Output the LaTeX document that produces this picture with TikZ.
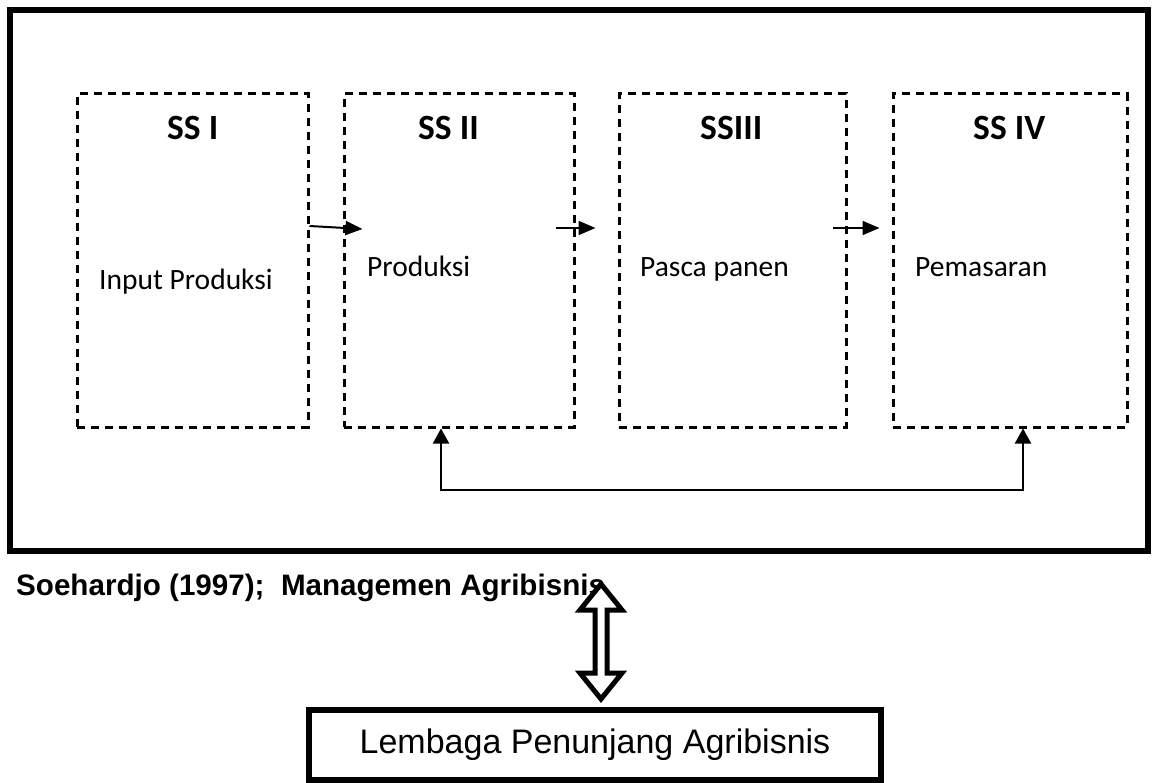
\documentclass[tikz,border=0pt]{standalone}
\usepackage{fontspec}
\setmainfont{Carlito}
\newfontfamily\arialfont{Liberation Sans}
\usetikzlibrary{arrows.meta}

\tikzset{
  ssbox/.style={draw, dash pattern=on 8pt off 6pt, line width=3pt, inner sep=0pt, minimum height=333pt},
  ttl/.style={anchor=base west, inner sep=0pt, font=\fontsize{35.5}{40}\selectfont\bfseries},
  body/.style={anchor=base west, inner sep=0pt, font=\fontsize{29.5}{34}\selectfont},
  arr/.style={line width=2pt, -{Triangle[length=17pt,width=14pt]}},
  fb/.style={line width=2pt, {Triangle[length=15pt,width=16pt]}-{Triangle[length=15pt,width=16pt]}}
}

\begin{document}
\begin{tikzpicture}[x=1pt, y=-1pt]
\useasboundingbox (0,0) rectangle (1153,783);

\draw[line width=6pt] (10,10) rectangle (1148,551);

\node[ssbox, minimum width=231pt] (ssi) at (192.5,260.5) {};
\node[ssbox, minimum width=230pt] (ssii) at (459,260.5) {};
\node[ssbox, minimum width=227pt] (ssiii) at (732.5,260.5) {};
\node[ssbox, minimum width=234pt] (ssiv) at (1010,260.5) {};

\node[ttl] (ti) at (167,140) {SS I};
\node[ttl] (tii) at (418,140) {SS II};
\node[ttl] (tiii) at (700,140) {SSIII};
\node[ttl] (tiv) at (973,140) {SS IV};

\node[body] (input) at (99,290) {Input Produksi};
\node[body] (prod) at (367,277) {Produksi};
\node[body] (pasca) at (640,277) {Pasca panen};
\node[body] (pasar) at (915,277) {Pemasaran};

\draw[arr] ([yshift=34.5pt]ssi.east) -- ([xshift=20pt,yshift=31.5pt]ssii.west);
\draw[arr] ([xshift=-20pt,yshift=32.5pt]ssii.east) -- ([xshift=-22pt,yshift=32.5pt]ssiii.west);
\draw[arr] ([xshift=-14.5pt,yshift=32.5pt]ssiii.east) -- ([xshift=-12pt,yshift=32.5pt]ssiv.west);
\draw[fb] ([xshift=-18pt]ssii.south) -- ++(0,61) -| ([xshift=13pt]ssiv.south);

\node[anchor=base west, inner sep=0pt, font=\arialfont\fontsize{29.6}{34}\selectfont\bfseries] (src) at (16,595) {Soehardjo (1997); \ Managemen Agribisnis};

\node[draw, line width=6pt, minimum width=572pt, minimum height=70pt, font=\arialfont\fontsize{34}{40}\selectfont] (lembaga) at (595,745) {Lembaga Penunjang Agribisnis};

% panah dua arah
\draw[line width=5pt, fill=white, line join=miter] (601,584) -- (622,610) -- (607,610) -- (607,673) -- (622,673) -- (601,699)
  -- (580,673) -- (595,673) -- (595,610) -- (580,610) -- cycle;

\end{tikzpicture}
\end{document}
